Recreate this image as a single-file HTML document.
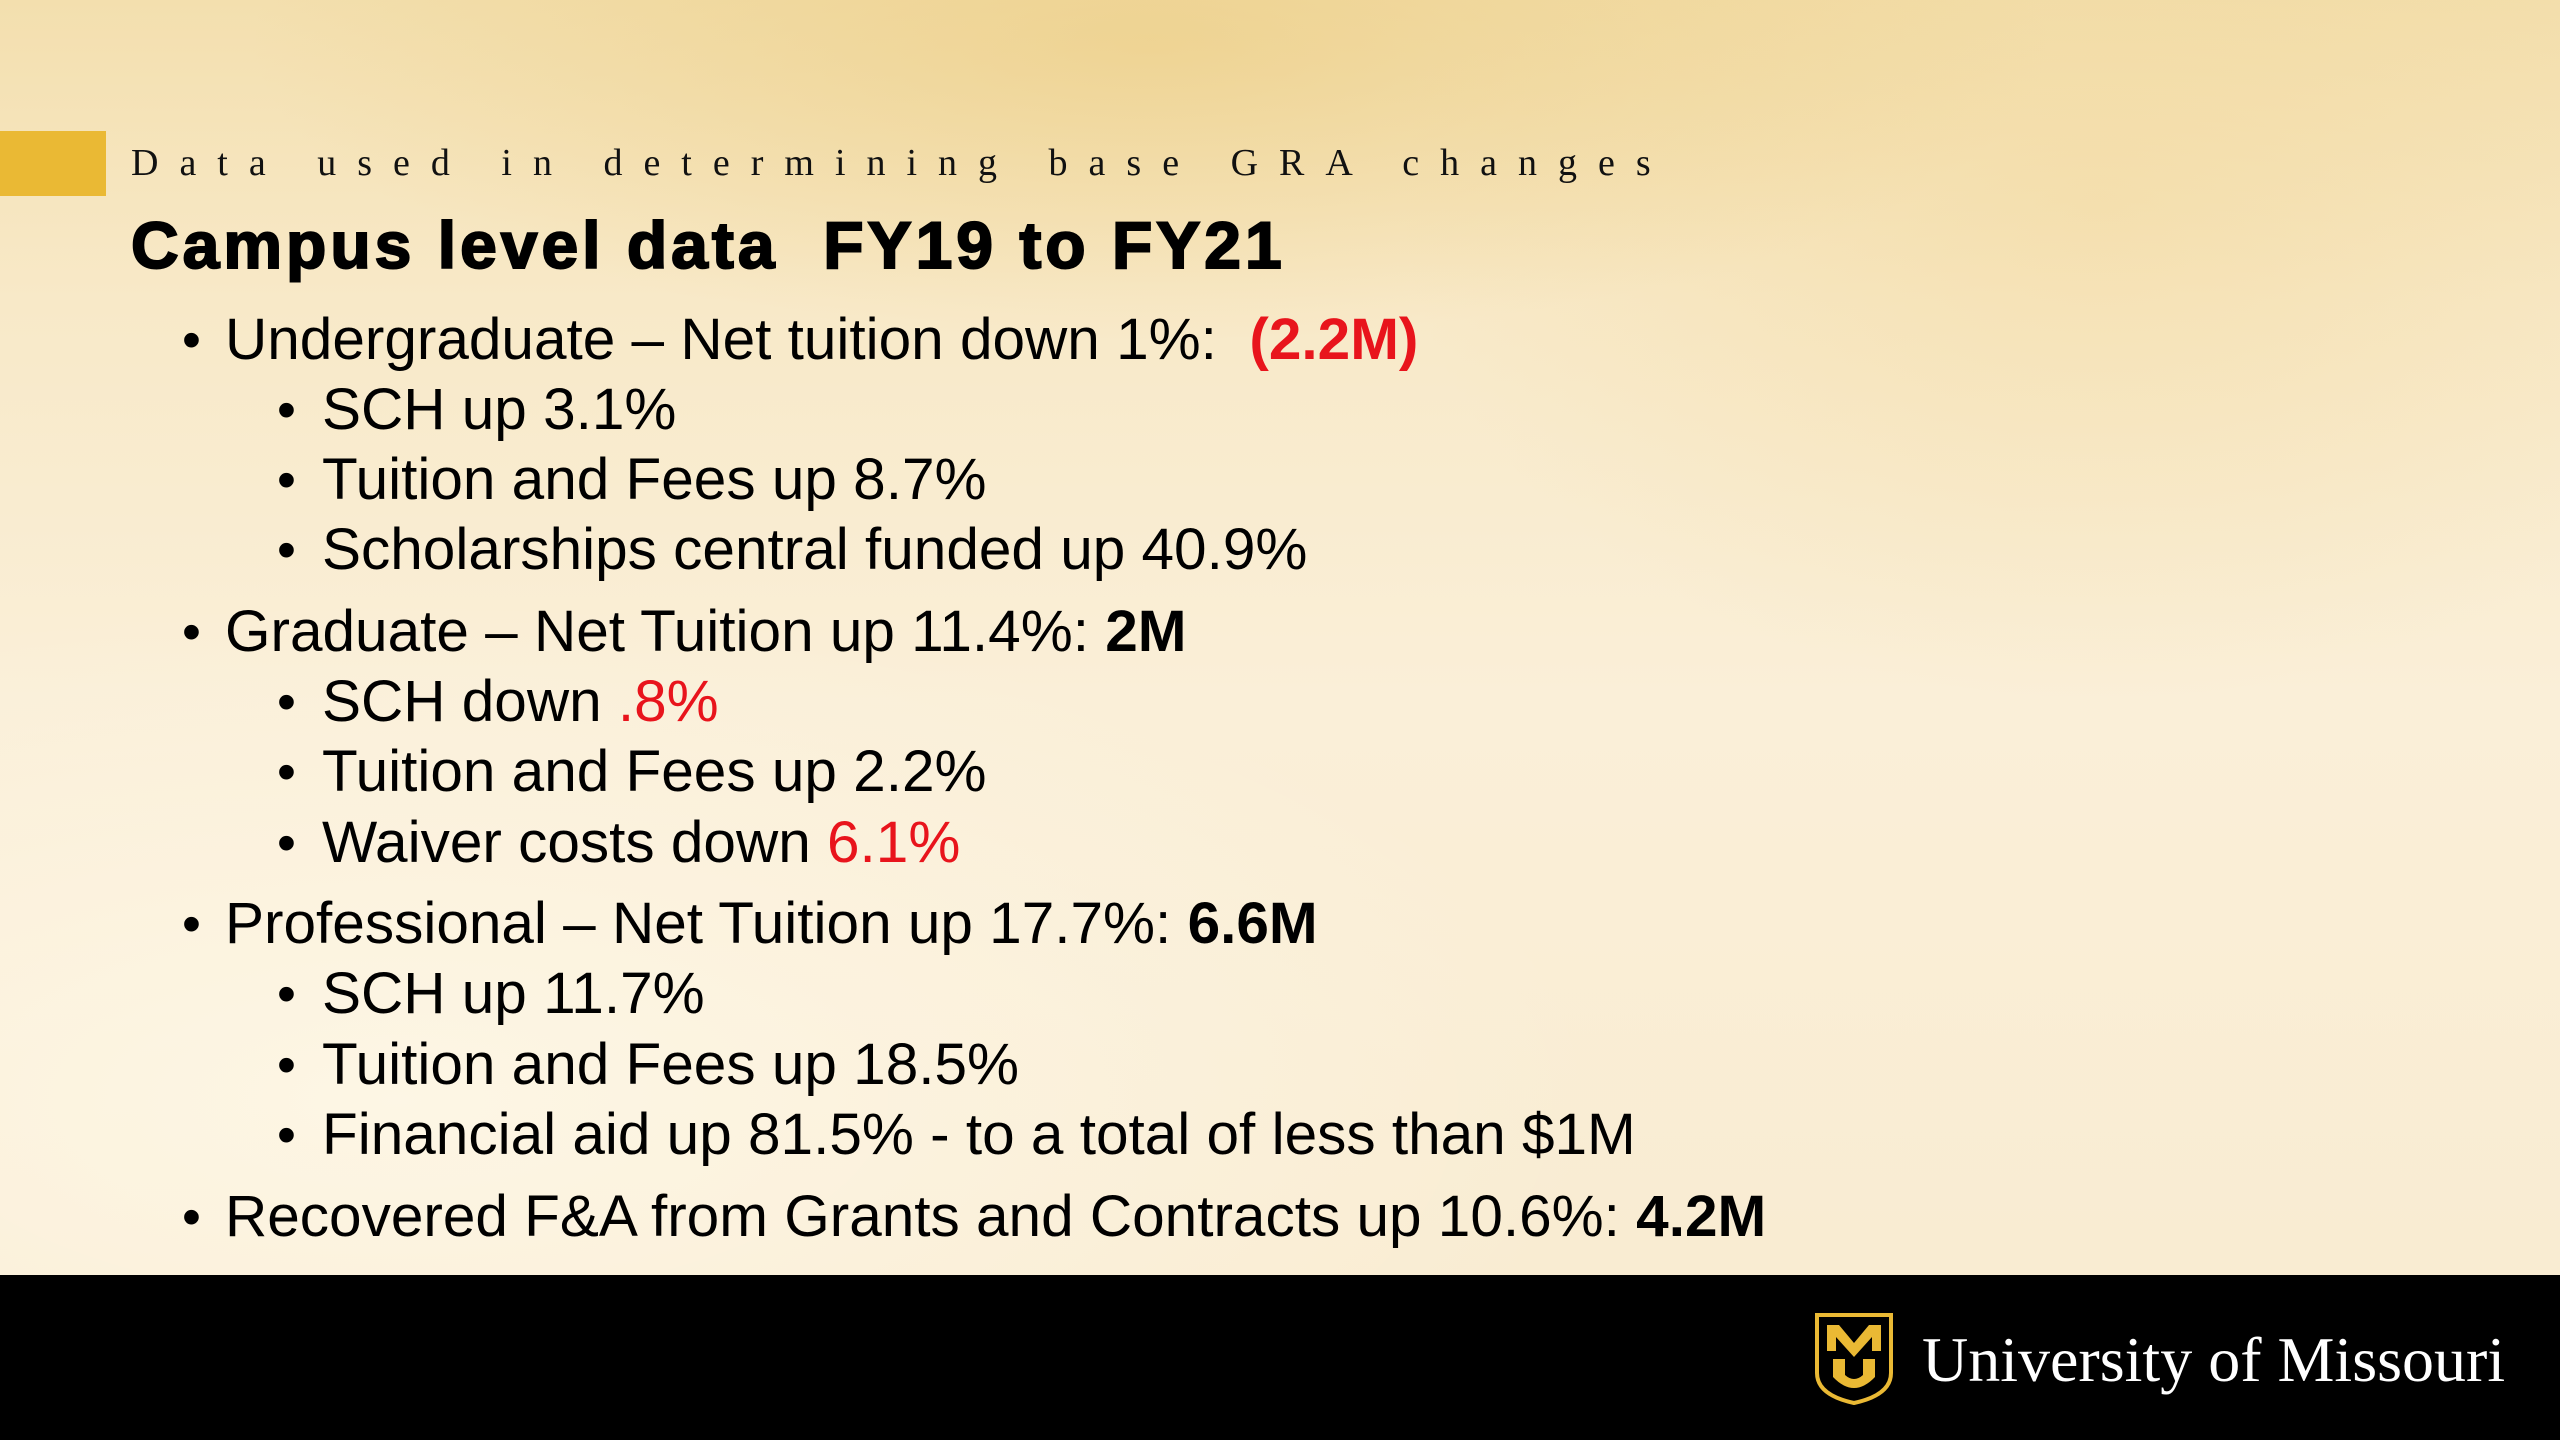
<!DOCTYPE html>
<html><head><meta charset="utf-8"><style>
body{margin:0;width:2560px;height:1440px;overflow:hidden;position:relative;font-family:"Liberation Sans",Arial,sans-serif;
background:
radial-gradient(ellipse 900px 300px at 1150px 40px,rgba(232,196,110,.45),rgba(232,196,110,0)),
radial-gradient(ellipse 700px 500px at 2100px 200px,rgba(240,210,140,.35),rgba(240,210,140,0)),
radial-gradient(ellipse 1200px 500px at 400px 1100px,rgba(255,250,236,.7),rgba(255,250,236,0)),
linear-gradient(180deg,#f3dfae 0px,#f8e9c8 300px,#faefd8 700px,#f9ecd2 1275px);}
.l{position:absolute;white-space:nowrap;color:#000;font-size:58.5px;line-height:70px;}
.b{position:absolute;font-size:54px;line-height:70px;}
.r{color:#e8141c}
</style></head><body>
<div style="position:absolute;left:0;top:131px;width:106px;height:65px;background:#eab934"></div>
<div style="position:absolute;left:131px;top:142px;font-family:'Liberation Serif',serif;font-size:38px;line-height:42px;letter-spacing:21px;color:#111;white-space:nowrap">Data used in determining base GRA changes</div>
<div style="position:absolute;left:131px;top:208px;font-size:66px;line-height:74px;font-weight:900;letter-spacing:4px;color:#000;white-space:nowrap;-webkit-text-stroke:2px #000">Campus level data&nbsp; FY19 to FY21</div>

<div>
<div class="b" style="left:182px;top:305px">•</div><div class="l" style="left:225px;top:305px">Undergraduate – Net tuition down 1%:&nbsp; <b class="r">(2.2M)</b></div>
<div class="b" style="left:277px;top:375px">•</div><div class="l" style="left:322px;top:375px">SCH up 3.1%</div>
<div class="b" style="left:277px;top:445px">•</div><div class="l" style="left:322px;top:445px">Tuition and Fees up 8.7%</div>
<div class="b" style="left:277px;top:515px">•</div><div class="l" style="left:322px;top:515px">Scholarships central funded up 40.9%</div>

<div class="b" style="left:182px;top:597px">•</div><div class="l" style="left:225px;top:597px">Graduate – Net Tuition up 11.4%: <b>2M</b></div>
<div class="b" style="left:277px;top:667px">•</div><div class="l" style="left:322px;top:667px">SCH down <span class="r">.8%</span></div>
<div class="b" style="left:277px;top:737px">•</div><div class="l" style="left:322px;top:737px">Tuition and Fees up 2.2%</div>
<div class="b" style="left:277px;top:808px">•</div><div class="l" style="left:322px;top:808px">Waiver costs down <span class="r">6.1%</span></div>

<div class="b" style="left:182px;top:889px">•</div><div class="l" style="left:225px;top:889px">Professional – Net Tuition up 17.7%: <b>6.6M</b></div>
<div class="b" style="left:277px;top:959px">•</div><div class="l" style="left:322px;top:959px">SCH up 11.7%</div>
<div class="b" style="left:277px;top:1030px">•</div><div class="l" style="left:322px;top:1030px">Tuition and Fees up 18.5%</div>
<div class="b" style="left:277px;top:1100px">•</div><div class="l" style="left:322px;top:1100px">Financial aid up 81.5% - to a total of less than $1M</div>

<div class="b" style="left:182px;top:1182px">•</div><div class="l" style="left:225px;top:1182px">Recovered F&amp;A from Grants and Contracts up 10.6%: <b>4.2M</b></div>
</div>

<div style="position:absolute;left:0;top:1275px;width:2560px;height:165px;background:#000">
<svg style="position:absolute;left:1813px;top:36px" width="82" height="94" viewBox="0 0 82 94">
<path d="M4 4 H78 V62 Q78 84 41 92 Q4 84 4 62 Z" fill="#000" stroke="#eab934" stroke-width="4"/>
<path d="M14 14 h12 l15 18 l15 -18 h12 v26 h-9 v-14 l-18 20 l-18 -20 v14 h-9 z" fill="#eab934"/>
<path d="M20 48 h12 v16 q9 8 18 0 v-16 h12 v18 q-21 22 -42 0 z" fill="#eab934"/>
</svg>
<div style="position:absolute;left:1922px;top:50px;font-family:'Liberation Serif',serif;font-size:64px;line-height:70px;color:#fff;white-space:nowrap">University of Missouri</div>
</div>
</body></html>
